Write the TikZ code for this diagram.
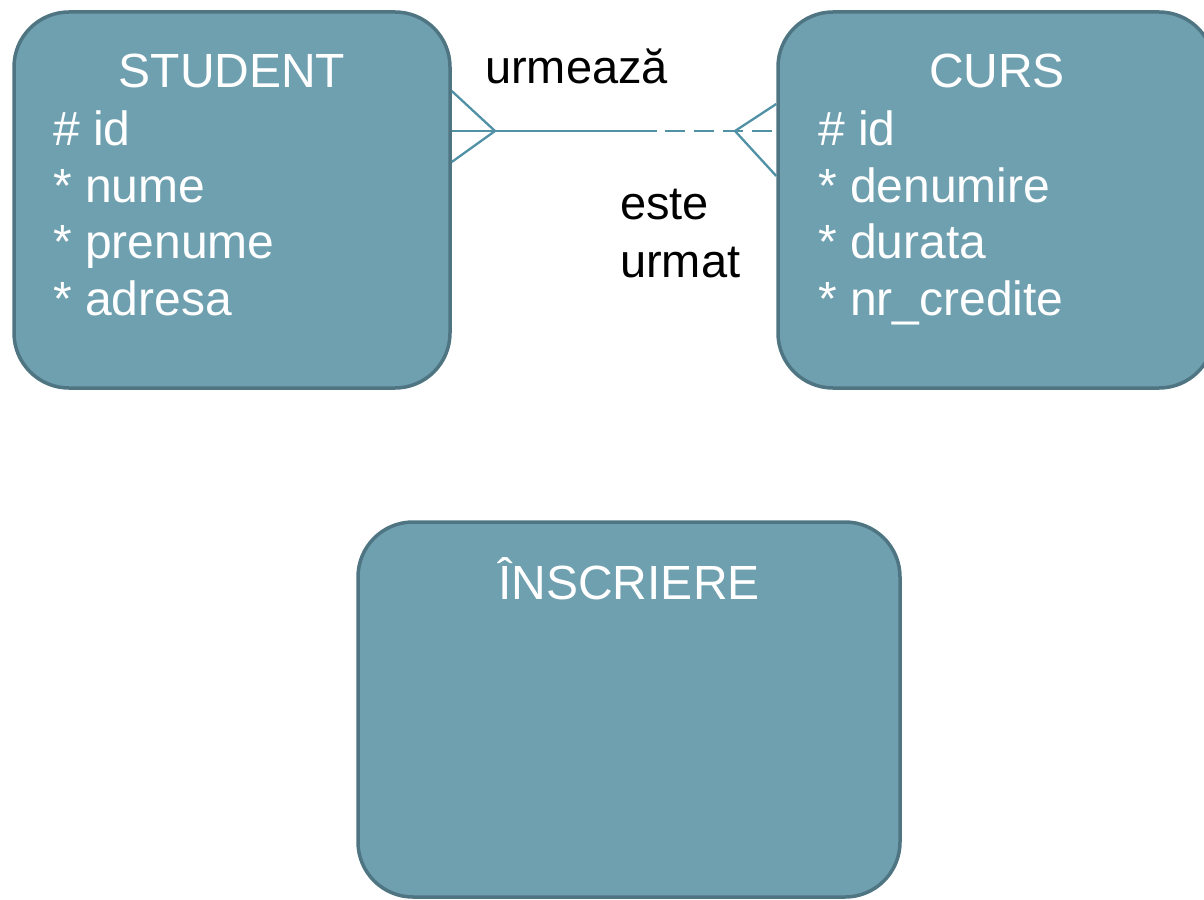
\documentclass[tikz,border=0pt]{standalone}
\usepackage{fontspec}
\setmainfont{Liberation Sans}
\definecolor{boxfill}{RGB}{111,160,176}
\definecolor{boxline}{RGB}{79,117,131}
\definecolor{relline}{RGB}{80,145,165}
\tikzset{
  entity/.style={draw=boxline, line width=3.5pt, fill=boxfill, rounded corners=55pt, inner sep=0pt},
  etitle/.style={text=white, inner sep=0pt, anchor=base, font=\fontsize{48}{57}\selectfont},
  eattr/.style={text=white, inner sep=0pt, anchor=base west, font=\fontsize{48}{57}\selectfont},
  rlabel/.style={text=black, inner sep=0pt, anchor=base west, font=\fontsize{47}{57}\selectfont},
  rel/.style={draw=relline, line width=2.3pt},
  reldash/.style={draw=relline, line width=2.3pt, dash pattern=on 20pt off 9pt}
}
\begin{document}
\begin{tikzpicture}[x=1pt, y=-1pt]
\useasboundingbox (0,0) rectangle (1204,899);
\begin{scope}
\clip (0,0) rectangle (1204,899);
% entities
\node[entity, minimum width=436pt, minimum height=376pt] (student) at (232,200) {};
\node[entity, minimum width=436pt, minimum height=376pt] (curs) at (996,200) {};
\node[entity, minimum width=542pt, minimum height=375pt] (inscr) at (629,709.5) {};
\end{scope}
% titles
\node[etitle] (tst) at (232,88) {STUDENT};
\node[etitle] (tcu) at (997,88) {CURS};
\node[etitle] (tin) at (629,599) {ÎNSCRIERE};
% student attributes
\node[eattr] (s1) at (53,145) {\# id};
\node[eattr] (s2) at (53,202) {* nume};
\node[eattr] (s3) at (53,258) {* prenume};
\node[eattr] (s4) at (53,315) {* adresa};
% curs attributes
\node[eattr] (c1) at (818,145) {\# id};
\node[eattr] (c2) at (818,202) {* denumire};
\node[eattr] (c3) at (818,258) {* durata};
\node[eattr] (c4) at (818,315) {* nr\_credite};
% relationship labels
\node[rlabel] (lu) at (485,84) {urmează};
\node[rlabel] (le) at (620,219) {este};
\node[rlabel] (lm) at (620,277) {urmat};
% relationship connector
\coordinate (se) at (student.east |- 0,131);
\coordinate (sup) at (student.east |- 0,91);
\coordinate (sdn) at (student.east |- 0,162);
\coordinate (sa) at (495,131);
\coordinate (mid) at (657,131);
\coordinate (dstart) at (665,131);
\coordinate (ce) at (curs.west |- 0,131);
\coordinate (cup) at (curs.west |- 0,104);
\coordinate (cdn) at (curs.west |- 0,176);
\coordinate (ca) at (735,131);
\draw[rel] (se) -- (mid);
\draw[rel] (sup) -- (sa) -- (sdn);
\draw[reldash] (dstart) -- (ce);
\draw[rel] (cup) -- (ca) -- (cdn);
\end{tikzpicture}
\end{document}
